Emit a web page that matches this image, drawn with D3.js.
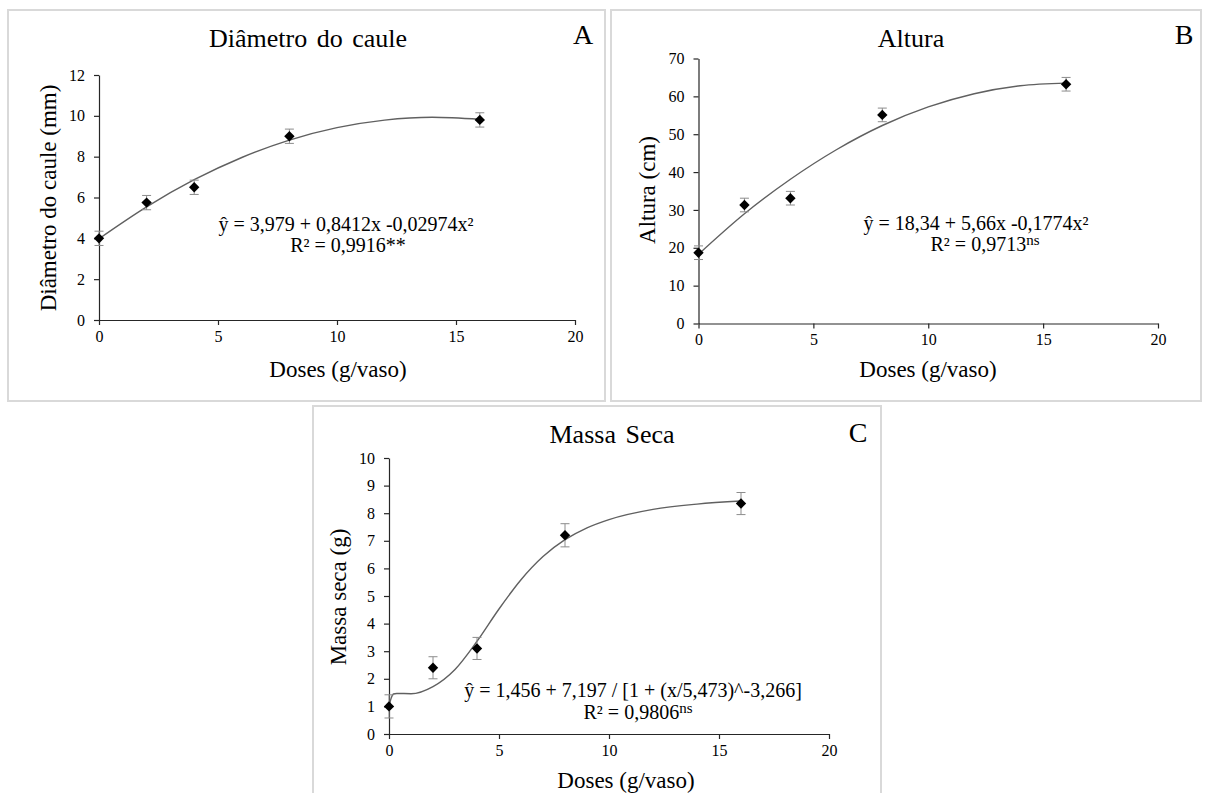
<!DOCTYPE html>
<html>
<head>
<meta charset="utf-8">
<script src="https://cdnjs.cloudflare.com/ajax/libs/d3/7.8.5/d3.min.js"></script>
<style>
  body { margin: 0; background: #fff; }
  svg, svg text { font-family: "Liberation Serif", serif; fill: #000; }
</style>
</head>
<body>
<div id="chart"></div>
<script>
// measured means at each dose
var doses = [0, 2, 4, 8, 16];
var diametro = [4.0, 5.75, 6.5, 9.0, 9.8];
var diametroErr = [0.35, 0.35, 0.35, 0.35, 0.35];
var altura = [18.7, 31.3, 33.1, 55.1, 63.2];
var alturaErr = [1.8, 1.8, 1.8, 1.8, 1.8];
var massa = [1.0, 2.4, 3.1, 7.2, 8.35];
var massaErr = [0.42, 0.4, 0.4, 0.42, 0.4];

// fitted lines
var fitXAB = [0, 2, 4, 6, 8, 10, 12, 14, 16];
var fitA = [3.98, 5.54, 6.87, 7.96, 8.81, 9.42, 9.79, 9.93, 9.83];
var fitB = [18.3, 29.0, 38.1, 45.9, 52.3, 57.2, 60.7, 62.8, 63.5];
var fitXC = [0, 0.1, 0.2, 0.35, 1, 2, 3, 4, 5, 6, 7, 8, 9, 10, 12, 14, 16];
var fitC = [1.0, 1.3, 1.45, 1.47, 1.46, 1.72, 2.34, 3.36, 4.53, 5.59, 6.43, 7.04, 7.47, 7.77, 8.14, 8.33, 8.44];

var xTicks = [0, 5, 10, 15, 20];
var ticksA = [0, 2, 4, 6, 8, 10, 12];
var ticksB = [0, 10, 20, 30, 40, 50, 60, 70];
var ticksC = [0, 1, 2, 3, 4, 5, 6, 7, 8, 9, 10];

var FONT = '"Liberation Serif", serif';

var svg = d3.select('#chart')
    .append('svg')
    .attr('width', 1207)
    .attr('height', 793)
    .attr('font-family', FONT);

function label(g, txt, size) {
    return g.append('text')
        .text(txt)
        .attr('font-family', FONT)
        .attr('font-size', size)
        .attr('fill', '#000');
}

function drawPanel(o) {
    var g = svg.append('g');

    // panel frame
    g.append('rect')
        .attr('x', o.box[0]).attr('y', o.box[1])
        .attr('width', o.box[2]).attr('height', o.box[3])
        .attr('fill', '#fff')
        .attr('stroke', '#d9d9d9')
        .attr('stroke-width', 2);

    var x = d3.scaleLinear().domain([0, 20]).range([o.plot[0], o.plot[1]]);
    var y = d3.scaleLinear().domain([0, o.yMax]).range([o.plot[2], o.plot[3]]);

    var xAxis = g.append('g')
        .attr('transform', 'translate(0,' + o.plot[2] + ')')
        .call(d3.axisBottom(x).tickValues(xTicks).tickSize(5).tickSizeOuter(0));
    var yAxis = g.append('g')
        .attr('transform', 'translate(' + o.plot[0] + ',0)')
        .call(d3.axisLeft(y).tickValues(o.yTicks).tickSize(5).tickSizeOuter(0));

    [xAxis, yAxis].forEach(function(a) {
        a.attr('font-family', FONT).attr('font-size', 16);
        a.selectAll('path, line').attr('stroke', '#262626').attr('stroke-width', 1.2);
        a.selectAll('text').attr('fill', '#000');
    });
    xAxis.selectAll('text').attr('y', 9).attr('dy', '0.8em');
    yAxis.selectAll('text').attr('x', -14);

    // fitted curve
    var line = d3.line()
        .x(function(d) { return x(d[0]); })
        .y(function(d) { return y(d[1]); })
        .curve(d3.curveMonotoneX);
    g.append('path')
        .datum(d3.zip(o.fitX, o.fitY))
        .attr('d', line)
        .attr('fill', 'none')
        .attr('stroke', '#606060')
        .attr('stroke-width', 1.4);

    var pts = d3.zip(doses, o.values, o.errors);

    // error bars
    var eb = g.selectAll('.eb').data(pts).enter().append('g').attr('class', 'eb');
    eb.append('line')
        .attr('x1', function(d) { return x(d[0]); })
        .attr('x2', function(d) { return x(d[0]); })
        .attr('y1', function(d) { return y(d[1] - d[2]); })
        .attr('y2', function(d) { return y(d[1] + d[2]); })
        .attr('stroke', '#8c8c8c').attr('stroke-width', 1);
    [-1, 1].forEach(function(s) {
        eb.append('line')
            .attr('x1', function(d) { return x(d[0]) - 4.5; })
            .attr('x2', function(d) { return x(d[0]) + 4.5; })
            .attr('y1', function(d) { return y(d[1] + s * d[2]); })
            .attr('y2', function(d) { return y(d[1] + s * d[2]); })
            .attr('stroke', '#8c8c8c').attr('stroke-width', 1);
    });

    // diamond markers
    g.selectAll('.pt').data(pts).enter().append('path')
        .attr('class', 'pt')
        .attr('d', d3.symbol(d3.symbolSquare, 54))
        .attr('transform', function(d) {
            return 'translate(' + x(d[0]) + ',' + y(d[1]) + ') rotate(45)';
        })
        .attr('fill', '#000');

    // titles and labels
    label(g, o.title, 26)
        .attr('x', o.titlePos[0]).attr('y', o.titlePos[1])
        .attr('text-anchor', 'middle')
        .attr('word-spacing', 3);
    label(g, o.letter, 28)
        .attr('x', o.letterPos[0]).attr('y', o.letterPos[1])
        .attr('text-anchor', 'middle');
    label(g, 'Doses (g/vaso)', 23)
        .attr('x', o.xLabelPos[0]).attr('y', o.xLabelPos[1])
        .attr('text-anchor', 'middle');
    label(g, o.yLabel, 23)
        .attr('transform', 'translate(' + o.yLabelPos[0] + ',' + o.yLabelPos[1] + ') rotate(-90)')
        .attr('text-anchor', 'middle');

    // equation
    label(g, o.eq, 20)
        .attr('x', o.eqPos[0]).attr('y', o.eqPos[1])
        .attr('text-anchor', 'middle');
    var r2 = label(g, '', 20)
        .attr('x', o.r2Pos[0]).attr('y', o.r2Pos[1])
        .attr('text-anchor', 'middle');
    r2.append('tspan').text(o.r2);
    if (o.sup) {
        r2.append('tspan').text(o.sup)
            .attr('dy', -6)
            .attr('font-size', 15);
    }
}

drawPanel({
    box: [8, 10, 597, 391],
    plot: [99, 575, 320, 75],
    yMax: 12, yTicks: ticksA,
    values: diametro, errors: diametroErr,
    fitX: fitXAB, fitY: fitA,
    title: 'Diâmetro do caule', titlePos: [308, 47],
    letter: 'A', letterPos: [583, 44],
    yLabel: 'Diâmetro do caule (mm)', yLabelPos: [56, 198],
    xLabelPos: [338, 377],
    eq: 'ŷ = 3,979 + 0,8412x -0,02974x²', eqPos: [346, 231],
    r2: 'R² = 0,9916**', sup: null, r2Pos: [348, 252]
});

drawPanel({
    box: [611, 10, 590, 391],
    plot: [698.5, 1158, 323.5, 58.5],
    yMax: 70, yTicks: ticksB,
    values: altura, errors: alturaErr,
    fitX: fitXAB, fitY: fitB,
    title: 'Altura', titlePos: [911, 47],
    letter: 'B', letterPos: [1184, 44],
    yLabel: 'Altura (cm)', yLabelPos: [655, 190],
    xLabelPos: [928, 377],
    eq: 'ŷ = 18,34 + 5,66x -0,1774x²', eqPos: [976, 230],
    r2: 'R² = 0,9713', sup: 'ns', r2Pos: [985, 251]
});

drawPanel({
    box: [313, 406, 568, 400],
    plot: [389, 829, 734, 458],
    yMax: 10, yTicks: ticksC,
    values: massa, errors: massaErr,
    fitX: fitXC, fitY: fitC,
    title: 'Massa Seca', titlePos: [612, 443],
    letter: 'C', letterPos: [858, 442],
    yLabel: 'Massa seca (g)', yLabelPos: [346, 597],
    xLabelPos: [626, 788],
    eq: 'ŷ = 1,456 + 7,197 / [1 + (x/5,473)^-3,266]', eqPos: [633, 697],
    r2: 'R² = 0,9806', sup: 'ns', r2Pos: [638, 719]
});
</script>
</body>
</html>
